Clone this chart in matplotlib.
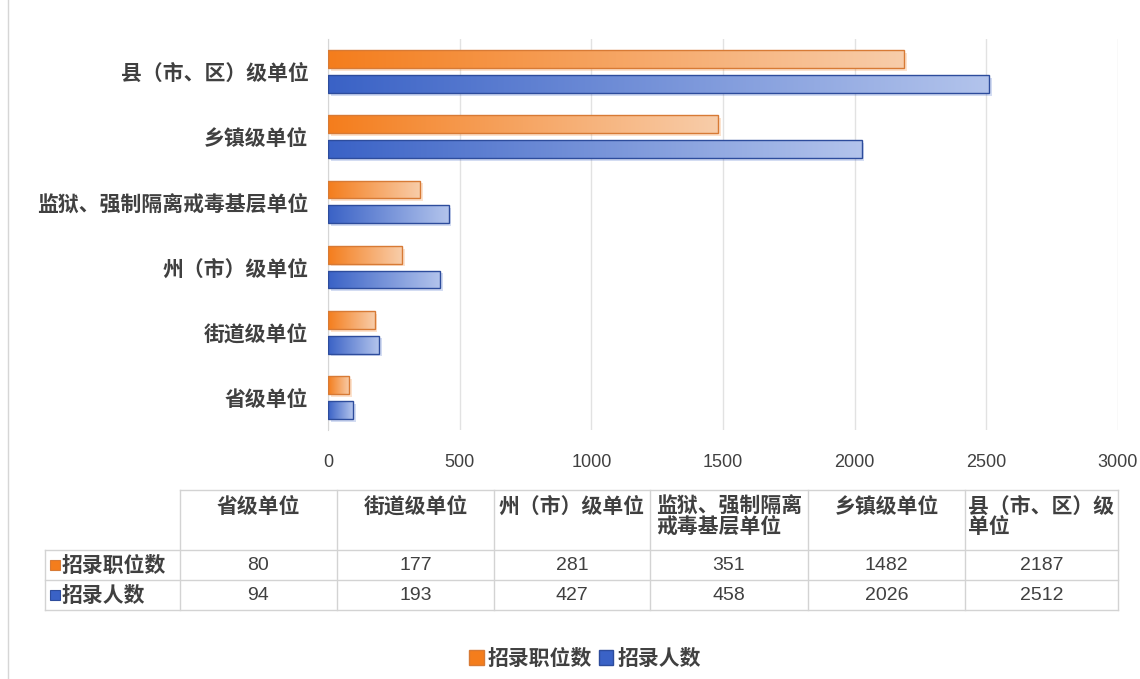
import numpy as np
import matplotlib
matplotlib.use("Agg")
import matplotlib.pyplot as plt
from matplotlib.patches import Rectangle, Patch
from matplotlib.colors import to_rgb
import matplotlib.patheffects as pe

plt.rcParams['font.family'] = ['Noto Sans CJK SC', 'DejaVu Sans']

# ---------------- data ----------------
categories = ['省级单位', '街道级单位', '州（市）级单位', '监狱、强制隔离戒毒基层单位', '乡镇级单位', '县（市、区）级单位']
table_headers = ['省级单位', '街道级单位', '州（市）级单位', '监狱、强制隔离\n戒毒基层单位', '乡镇级单位', '县（市、区）级\n单位']
series_names = ['招录职位数', '招录人数']
positions = [80, 177, 281, 351, 1482, 2187]
people = [94, 193, 427, 458, 2026, 2512]
xticks = [0, 500, 1000, 1500, 2000, 2500, 3000]

# ---------------- style ----------------
W, H = 1140, 679
text_col = '#404040'
grid_col = '#E2E2E2'
orange_l, orange_r, orange_e = '#F47D1C', '#F8CDAA', '#D77A35'
blue_l, blue_r, blue_e = '#3A62C6', '#B3C4EC', '#2D4C9C'

fig = plt.figure(figsize=(W / 100, H / 100), dpi=100)
fig.patch.set_facecolor('white')

ax = fig.add_axes([328 / W, 1 - 430 / H, (1118 - 328) / W, (430 - 39) / H])
ax.set_xlim(0, 3000)
ax.set_ylim(-0.5, 5.5)

bar_h = 0.275
off = 0.19
y = np.arange(len(categories))


def grad_bars(vals, ypos, cl, cr, ce):
    bars = ax.barh(ypos, vals, height=bar_h, color=cl, edgecolor='none', zorder=2,
                   path_effects=[pe.SimplePatchShadow(offset=(2, -2), shadow_rgbFace=cl, alpha=0.22),
                                 pe.Normal()])
    c0 = np.array(to_rgb(cl))
    c1 = np.array(to_rgb(cr))
    t = np.linspace(0, 1, 256)[None, :, None]
    img = c0 * (1 - t) + c1 * t
    for b in bars:
        x0, y0 = b.get_x(), b.get_y()
        w, h = b.get_width(), b.get_height()
        im = ax.imshow(img, extent=(x0, x0 + w, y0, y0 + h), aspect='auto', zorder=3,
                       interpolation='bilinear')
        im.set_clip_path(b)
    ax.barh(ypos, vals, height=bar_h, facecolor='none', edgecolor=ce, linewidth=1.0, zorder=4)


grad_bars(positions, y + off, orange_l, orange_r, orange_e)
grad_bars(people, y - off, blue_l, blue_r, blue_e)
ax.set_xlim(0, 3000)
ax.set_ylim(-0.5, 5.5)

ax.set_xticks(xticks)
ax.set_xticklabels([str(v) for v in xticks], family=['Liberation Sans', 'DejaVu Sans'],
                   fontsize=13, color=text_col)
ax.set_yticks(y)
ax.set_yticklabels(categories, fontsize=15, fontweight='bold', color=text_col)
ax.tick_params(axis='both', length=0)
ax.tick_params(axis='x', pad=17)
ax.tick_params(axis='y', pad=14)
ax.grid(axis='x', color=grid_col, linewidth=1, zorder=0)
ax.set_axisbelow(True)
for s in ['top', 'right', 'bottom']:
    ax.spines[s].set_visible(False)
ax.spines['left'].set_color('#D6D6D6')
ax.set_facecolor('none')

# ---------------- overlay for table ----------------
ov = fig.add_axes([0, 0, 1, 1], zorder=-1)
ov.set_xlim(0, W)
ov.set_ylim(H, 0)
ov.axis('off')

ov.plot([8, 8], [0, H], color='#D6D6D6', lw=1)

line_c = '#D3D3D3'
col_x = [180, 337, 494, 650, 808, 965, 1118]
row_top, row1, row2, row3 = 490, 550, 580, 610
lab_x = 45
# horizontal lines
ov.plot([col_x[0], col_x[-1]], [row_top, row_top], color=line_c, lw=1)
for yy in (row1, row2, row3):
    ov.plot([lab_x, col_x[-1]], [yy, yy], color=line_c, lw=1)
# vertical lines
ov.plot([lab_x, lab_x], [row1, row3], color=line_c, lw=1)
for xx in col_x:
    ov.plot([xx, xx], [row_top, row3], color=line_c, lw=1)

for i, hdr in enumerate(table_headers):
    cx = (col_x[i] + col_x[i + 1]) / 2
    ov.text(cx, row_top + 6, hdr, ha='center', va='top', multialignment='left',
            fontsize=15, fontweight='bold', color=text_col, linespacing=0.95)

num_font = ['Liberation Sans', 'DejaVu Sans']
for r, (vals, name, cl, ce) in enumerate([(positions, series_names[0], orange_l, orange_e),
                                          (people, series_names[1], blue_l, blue_e)]):
    yc = (row1 + row2) / 2 if r == 0 else (row2 + row3) / 2
    ov.add_patch(Rectangle((50, yc - 5), 10, 10, facecolor=cl, edgecolor=ce, lw=0.8))
    ov.text(62, yc, name, ha='left', va='center', fontsize=15, fontweight='bold', color=text_col)
    for i, v in enumerate(vals):
        cx = (col_x[i] + col_x[i + 1]) / 2
        ov.text(cx, yc, str(v), ha='center', va='center', fontsize=14, family=num_font,
                color=text_col)

# ---------------- legend ----------------
handles = [Patch(facecolor=orange_l, edgecolor=orange_e, label=series_names[0]),
           Patch(facecolor=blue_l, edgecolor=blue_e, label=series_names[1])]
leg = fig.legend(handles=handles, loc='center', bbox_to_anchor=(585 / W, 1 - 658 / H), ncol=2,
                 frameon=False, handlelength=0.7, handleheight=0.7, handletextpad=0.2,
                 columnspacing=0.3, prop={'size': 15, 'weight': 'bold'})
for t in leg.get_texts():
    t.set_color(text_col)

fig.savefig('out.png', dpi=100, facecolor='white')
